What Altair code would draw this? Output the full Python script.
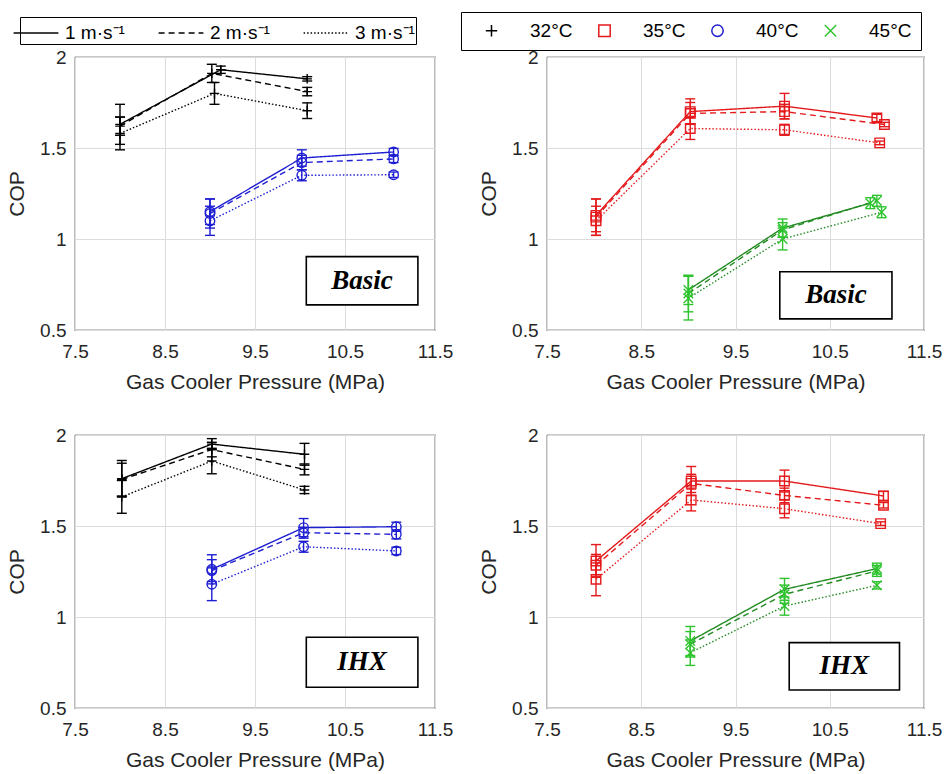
import altair as alt
import pandas as pd

SPEEDS = ["1 m·s⁻¹", "2 m·s⁻¹", "3 m·s⁻¹"]
TEMPS = ["32°C", "35°C", "40°C", "45°C"]
X_TICKS = [7.5, 8.5, 9.5, 10.5, 11.5]
Y_TICKS = [0.5, 1.0, 1.5, 2.0]

# ---------------- Basic cycle ----------------
# one inner list per air velocity (1, 2, 3 m/s)
BASIC_32_P = [[8.00, 9.12, 10.08], [8.00, 9.02, 10.08], [8.00, 9.05, 10.08]]
BASIC_32_COP = [[1.63, 1.93, 1.88], [1.62, 1.91, 1.81], [1.58, 1.80, 1.705]]
BASIC_32_ERR = [[0.11, 0.02, 0.012], [0.05, 0.05, 0.023], [0.09, 0.06, 0.043]]

BASIC_40_P = [[9.00, 10.02, 11.04], [9.00, 10.02, 11.04], [9.00, 10.02, 11.04]]
BASIC_40_COP = [[1.15, 1.445, 1.478], [1.14, 1.42, 1.44], [1.10, 1.35, 1.353]]
BASIC_40_ERR = [[0.07, 0.045, 0.02], [0.08, 0.04, 0.02], [0.08, 0.03, 0.015]]

BASIC_35_P = [[8.02, 9.02, 10.02, 11.00], [8.02, 9.02, 10.02, 11.08], [8.02, 9.02, 10.02, 11.03]]
BASIC_35_COP = [[1.13, 1.70, 1.73, 1.665], [1.12, 1.69, 1.70, 1.629], [1.10, 1.607, 1.60, 1.528]]
BASIC_35_ERR = [[0.09, 0.07, 0.07, 0.02], [0.10, 0.06, 0.04, 0.012], [0.08, 0.06, 0.03, 0.01]]

BASIC_45_P = [[9.00, 10.00, 10.93], [9.00, 10.00, 11.00], [9.00, 10.00, 11.05]]
BASIC_45_COP = [[0.72, 1.06, 1.197], [0.70, 1.05, 1.21], [0.675, 1.00, 1.147]]
BASIC_45_ERR = [[0.08, 0.05, 0.03], [0.10, 0.04, 0.03], [0.12, 0.06, 0.03]]

# ---------------- IHX cycle ----------------
IHX_32_P = [[8.02, 9.02, 10.05], [8.02, 9.02, 10.05], [8.02, 9.02, 10.05]]
IHX_32_COP = [[1.76, 1.95, 1.894], [1.755, 1.92, 1.811], [1.66, 1.857, 1.698]]
IHX_32_ERR = [[0.10, 0.03, 0.06], [0.09, 0.04, 0.03], [0.09, 0.07, 0.02]]

IHX_40_P = [[9.02, 10.04, 11.07], [9.02, 10.04, 11.07], [9.02, 10.04, 11.07]]
IHX_40_COP = [[1.262, 1.491, 1.496], [1.255, 1.463, 1.454], [1.18, 1.386, 1.363]]
IHX_40_ERR = [[0.08, 0.05, 0.025], [0.06, 0.03, 0.025], [0.09, 0.03, 0.02]]

IHX_35_P = [[8.02, 9.03, 10.02, 11.07], [8.02, 9.03, 10.02, 11.07], [8.02, 9.03, 10.02, 11.04]]
IHX_35_COP = [[1.308, 1.747, 1.747, 1.665], [1.284, 1.734, 1.668, 1.614], [1.207, 1.643, 1.595, 1.513]]
IHX_35_ERR = [[0.09, 0.08, 0.06, 0.025], [0.06, 0.05, 0.04, 0.015], [0.09, 0.06, 0.05, 0.01]]

IHX_45_P = [[9.02, 10.02, 11.00], [9.02, 10.02, 11.00], [9.02, 10.02, 11.00]]
IHX_45_COP = [[0.868, 1.152, 1.266], [0.85, 1.125, 1.253], [0.804, 1.06, 1.174]]
IHX_45_ERR = [[0.08, 0.06, 0.03], [0.07, 0.05, 0.03], [0.07, 0.05, 0.02]]


def rows(temp, P, COP, ERR):
    out = []
    for s, speed in enumerate(SPEEDS):
        for p, c, e in zip(P[s], COP[s], ERR[s]):
            out.append({"p": p, "cop": c, "lo": c - e, "hi": c + e,
                        "temp": temp, "line": "line " + temp, "bar": "bar " + temp,
                        "speed": speed})
    return out


df_tl = pd.DataFrame(rows("32°C", BASIC_32_P, BASIC_32_COP, BASIC_32_ERR)
                     + rows("40°C", BASIC_40_P, BASIC_40_COP, BASIC_40_ERR))
df_tr = pd.DataFrame(rows("35°C", BASIC_35_P, BASIC_35_COP, BASIC_35_ERR)
                     + rows("45°C", BASIC_45_P, BASIC_45_COP, BASIC_45_ERR))
df_bl = pd.DataFrame(rows("32°C", IHX_32_P, IHX_32_COP, IHX_32_ERR)
                     + rows("40°C", IHX_40_P, IHX_40_COP, IHX_40_ERR))
df_br = pd.DataFrame(rows("35°C", IHX_35_P, IHX_35_COP, IHX_35_ERR)
                     + rows("45°C", IHX_45_P, IHX_45_COP, IHX_45_ERR))

MARK_COLORS = ["#000000", "#e41a1c", "#1f1fd2", "#2fc42f"]
LINE_COLORS = ["#000000", "#e41a1c", "#1f1fd2", "#228b22"]
SHAPES = ["M-1,0H1M0,-1V1", "square", "circle", "M-1,-1L1,1M-1,1L1,-1"]
DASHES = [[1, 0], [6, 4], [1.5, 2]]

color_scale = alt.Scale(domain=TEMPS, range=MARK_COLORS)
stroke_scale = alt.Scale(domain=["line " + t for t in TEMPS] + ["bar " + t for t in TEMPS],
                         range=LINE_COLORS + MARK_COLORS)
shape_scale = alt.Scale(domain=TEMPS, range=SHAPES)
dash_scale = alt.Scale(domain=SPEEDS, range=DASHES)

LEG_DASH = alt.Legend(title=None, orient="none", legendX=-55, legendY=-40,
                      direction="horizontal", symbolType="M-1.6,0H1.6",
                      symbolStrokeColor="black", symbolFillColor="transparent",
                      symbolStrokeWidth=1.5,
                      symbolSize=784, labelFontSize=19, labelFont="Liberation Sans",
                      labelColor="black", labelOffset=14, columnPadding=30,
                      padding=1, strokeColor="black", fillColor="white")
LEG_TEMP = alt.Legend(title=None, orient="none", legendX=386, legendY=-45,
                      direction="horizontal", symbolStrokeWidth=1.5,
                      symbolFillColor="transparent", symbolOpacity=1,
                      symbolSize=130, labelFontSize=19, labelFont="Liberation Sans",
                      labelColor="black", labelOffset=29, columnPadding=10,
                      symbolOffset=12,
                      padding=9, strokeColor="black", fillColor="white")


def panel(df, label, box, width, with_legend):
    base = alt.Chart(df)
    x = alt.X("p:Q", scale=alt.Scale(domain=[7.5, 11.5], nice=False),
              axis=alt.Axis(values=X_TICKS, format=".1f",
                            title="Gas Cooler Pressure (MPa)"))
    y = alt.Y("cop:Q", scale=alt.Scale(domain=[0.5, 2.0], nice=False),
              axis=alt.Axis(values=Y_TICKS, format="~g", title="COP"))
    dash_kw = {"legend": LEG_DASH} if with_legend else {}
    temp_kw = {"legend": LEG_TEMP} if with_legend else {}
    bar_stroke = alt.Stroke("bar:N", scale=stroke_scale, legend=None)
    lines = base.mark_line(strokeWidth=1.4).encode(
        x=x, y=y,
        stroke=alt.Stroke("line:N", scale=stroke_scale, legend=None),
        strokeDash=alt.StrokeDash("speed:N", scale=dash_scale, **dash_kw),
        detail="temp:N",
    )
    bars = base.mark_rule(strokeWidth=1.4).encode(
        x="p:Q", y="lo:Q", y2="hi:Q", stroke=bar_stroke)
    cap_lo = base.mark_rule(strokeWidth=1.4, xOffset=-5, x2Offset=5).encode(
        x="p:Q", x2="p:Q", y="lo:Q", stroke=bar_stroke)
    cap_hi = base.mark_rule(strokeWidth=1.4, xOffset=-5, x2Offset=5).encode(
        x="p:Q", x2="p:Q", y="hi:Q", stroke=bar_stroke)
    pts = base.mark_point(filled=False, size=90, strokeWidth=1.4, opacity=1).encode(
        x="p:Q", y="cop:Q",
        color=alt.Color("temp:N", scale=color_scale, **temp_kw),
        shape=alt.Shape("temp:N", scale=shape_scale, **temp_kw),
    )
    one = alt.Chart(pd.DataFrame({"k": [0]}))
    rect = one.mark_rect(fill="white", stroke="black", strokeWidth=1.6).encode(
        x=alt.datum(box[0]), x2=alt.datum(box[1]),
        y=alt.datum(box[2]), y2=alt.datum(box[3]))
    txt = one.mark_text(font="Liberation Serif", fontStyle="italic", fontWeight="bold",
                        fontSize=27, color="black").encode(
        x=alt.datum((box[0] + box[1]) / 2), y=alt.datum((box[2] + box[3]) / 2),
        text=alt.value(label))
    return alt.layer(lines, bars, cap_lo, cap_hi, pts, rect, txt).properties(
        width=width, height=273)


tl = panel(df_tl, "Basic", (10.07, 11.31, 0.903, 0.638), 360, True)
tr = panel(df_tr, "Basic", (9.97, 11.16, 0.82, 0.561), 377, False)
bl = panel(df_bl, "IHX", (10.07, 11.31, 0.889, 0.614), 360, False)
br = panel(df_br, "IHX", (10.07, 11.24, 0.859, 0.599), 377, False)

chart = alt.concat(tl, tr, bl, br, columns=2, spacing=alt.RowColnumber(row=32, column=23)
                   ).resolve_scale(color="shared", shape="shared",
                                   strokeDash="shared", stroke="shared"
                   ).properties(align="each", padding={"left": 5, "top": 11, "right": 2, "bottom": 2}
                   ).configure_view(stroke="#262626", strokeWidth=1.2
                   ).configure_axis(labelFont="Liberation Sans", labelFontSize=19,
                                    labelColor="#262626", titleFont="Liberation Sans",
                                    titleFontSize=21, titleFontWeight="normal",
                                    titleColor="#262626", gridColor="#dcdcdc",
                                    domain=False, ticks=False, tickSize=0,
                                    labelPadding=9, labelFlush=False
                   ).configure_axisX(titlePadding=10, labelPadding=12
                   ).configure_axisY(titlePadding=12)

chart.save("out.html", embed_options={"renderer": "svg", "actions": False})
